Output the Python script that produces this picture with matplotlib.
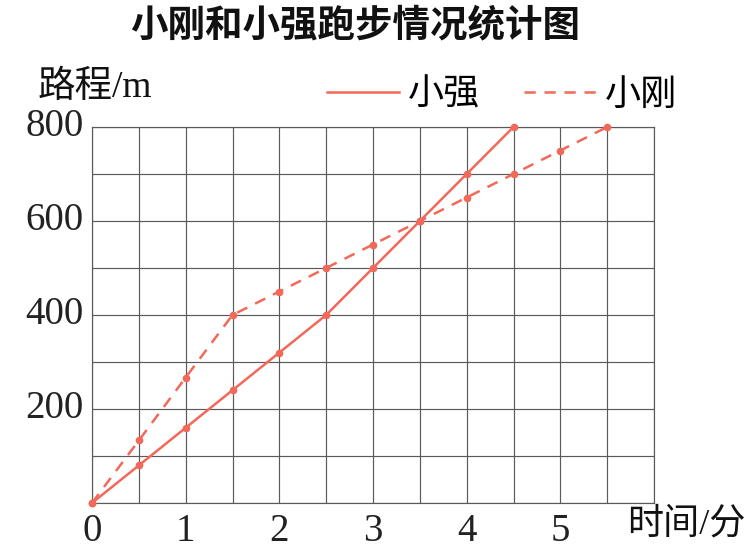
import matplotlib
matplotlib.use("Agg")
import matplotlib.pyplot as plt
from matplotlib.lines import Line2D

# Data
time_qiang = [0, 0.5, 1, 1.5, 2, 2.5, 3, 3.5, 4, 4.5]
dist_qiang = [0, 80, 160, 240, 320, 400, 500, 600, 700, 800]
time_gang = [0, 0.5, 1, 1.5, 2, 2.5, 3, 3.5, 4, 4.5, 5, 5.5]
dist_gang = [0, 133, 267, 400, 450, 500, 550, 600, 650, 700, 750, 800]
x_ticks = [0, 1, 2, 3, 4, 5]
y_ticks = [200, 400, 600, 800]
title = "小刚和小强跑步情况统计图"
series_names = ["小强", "小刚"]

cjk = ["Noto Sans CJK SC", "DejaVu Sans"]
serif = ["Liberation Serif", "DejaVu Serif"]
mixed = ["Liberation Serif", "Noto Sans CJK SC"]
color = "#f2695a"
grid_c = "#5a5a5a"

fig = plt.figure(figsize=(7.55, 5.58), dpi=100)
ax = fig.add_axes([92/755, 1-503/558, (654-92)/755, (503-127)/558])

ax.plot(time_qiang, dist_qiang, color=color, lw=1.8, marker="o", ms=4.5,
        zorder=3, clip_on=False)
ax.plot(time_gang, dist_gang, color=color, lw=1.8, marker="o", ms=4.5,
        dashes=(4.5, 3.5), zorder=3, clip_on=False)

ax.set_xlim(0, 6)
ax.set_ylim(0, 800)
ax.set_xticks([i * 0.5 for i in range(13)])
ax.set_yticks([i * 100 for i in range(9)])
ax.grid(True, color=grid_c, lw=0.85)
ax.set_axisbelow(True)
ax.tick_params(length=0, labelleft=False, labelbottom=False)
for s in ax.spines.values():
    s.set_color(grid_c)
    s.set_linewidth(0.85)

for v in x_ticks:
    ax.text(v, -22, str(v), ha="center", va="top", fontsize=28,
            family=serif, color="#222222")
for v in y_ticks:
    ax.text(-0.09, v, str(v), ha="right", va="center", fontsize=28,
            family=serif, color="#222222")

fig.text(355/755, 1-25/558, title, ha="center", va="center", fontsize=27,
         family=cjk, fontweight="bold", color="#111111")
fig.text(38/755, 1-88/558, "路程/m", ha="left", va="center", fontsize=27,
         family=mixed, color="#111111")
fig.text(745/755, 1-525/558, "时间/分", ha="right", va="center", fontsize=26,
         family=mixed, color="#111111")

handles = [Line2D([], [], color=color, lw=1.8),
           Line2D([], [], color=color, lw=1.8, dashes=(4.5, 3.5))]
leg = fig.legend(handles, series_names, loc="center right",
                 bbox_to_anchor=(677/755, 1-95/558), ncol=2, frameon=False,
                 prop={"family": cjk, "size": 26}, handlelength=2.0,
                 handletextpad=0.25, columnspacing=1.2, borderpad=0,
                 borderaxespad=0)

fig.savefig("out.png", dpi=100)
